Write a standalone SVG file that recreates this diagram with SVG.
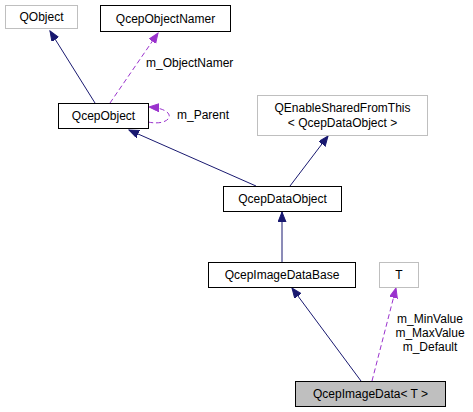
<svg xmlns="http://www.w3.org/2000/svg" width="473" height="412" viewBox="0 0 473 412">
<style>
text{font-family:"Liberation Sans",Arial,sans-serif;font-size:12px;fill:#000;text-anchor:middle}
.n{fill:#fff;stroke:#000;stroke-width:1}
.g{fill:#fff;stroke:#bfbfbf;stroke-width:1}
.h{fill:#bfbfbf;stroke:#000;stroke-width:1}
.inh{fill:none;stroke:#191970;stroke-width:1;marker-end:url(#ab)}
.use{fill:none;stroke:#9a32cd;stroke-width:1;stroke-dasharray:5,3;marker-end:url(#ap)}
.lbl{text-anchor:start}
</style>
<defs>
<marker id="ab" markerUnits="userSpaceOnUse" markerWidth="11" markerHeight="9" refX="10" refY="4" orient="auto"><path d="M0,0 L10,4 L0,8 z" fill="#191970" stroke="#191970"/></marker>
<marker id="ap" markerUnits="userSpaceOnUse" markerWidth="11" markerHeight="9" refX="10" refY="4" orient="auto"><path d="M0,0 L10,4 L0,8 z" fill="#9a32cd" stroke="#9a32cd"/></marker>
</defs>
<g id="connectors">
<path class="inh" d="M95,103 L50,31"/>
<path class="use" d="M110,103 L158,33"/>
<text class="lbl" x="146" y="67">m_ObjectNamer</text>
<path class="use" d="M148,122 C172,127 180,109 149,107"/>
<text class="lbl" x="177" y="119">m_Parent</text>
<path class="inh" d="M256,186 L129,130"/>
<path class="inh" d="M290,186 L328,136"/>
<path class="inh" d="M282,262 L282,212"/>
<path class="inh" d="M361,381 L292,288"/>
<path class="use" d="M372,381 L396,288"/>
<text x="430" y="323">m_MinValue</text>
<text x="430" y="337">m_MaxValue</text>
<text x="430" y="351">m_Default</text>
</g>
<g id="QObject"><rect class="g" x="5.5" y="5.5" width="72" height="23"/><text x="41.5" y="21">QObject</text></g>
<g id="QcepObjectNamer"><rect class="n" x="100.5" y="5.5" width="130" height="26"/><text x="165.5" y="22.5">QcepObjectNamer</text></g>
<g id="QcepObject"><rect class="n" x="58.5" y="103.5" width="90" height="25"/><text x="103.5" y="120">QcepObject</text></g>
<g id="QEnableSharedFromThis"><rect class="g" x="257.5" y="95.5" width="170" height="40"/><text x="342.5" y="112">QEnableSharedFromThis</text><text x="342.5" y="127">&lt; QcepDataObject &gt;</text></g>
<g id="QcepDataObject"><rect class="n" x="223.5" y="186.5" width="118" height="25"/><text x="282.5" y="203">QcepDataObject</text></g>
<g id="QcepImageDataBase"><rect class="n" x="208.5" y="262.5" width="147" height="25"/><text x="282" y="279">QcepImageDataBase</text></g>
<g id="T"><rect class="g" x="379.5" y="262.5" width="39" height="25"/><text x="399" y="279">T</text></g>
<g id="QcepImageData"><rect class="h" x="295.5" y="381.5" width="150" height="25"/><text x="370.5" y="398">QcepImageData&lt; T &gt;</text></g>
</svg>
